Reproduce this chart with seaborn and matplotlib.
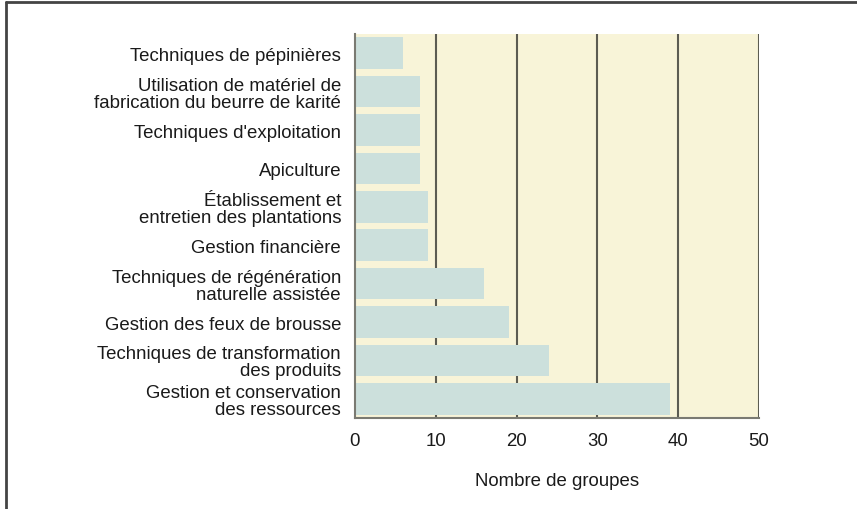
import numpy as np
import pandas as pd
import matplotlib
matplotlib.use('Agg')
import matplotlib.pyplot as plt
from matplotlib.lines import Line2D
import seaborn as sns

categories = [
    'Techniques de pépinières',
    'Utilisation de matériel de\nfabrication du beurre de karité',
    "Techniques d'exploitation",
    'Apiculture',
    'Établissement et\nentretien des plantations',
    'Gestion financière',
    'Techniques de régénération\nnaturelle assistée',
    'Gestion des feux de brousse',
    'Techniques de transformation\ndes produits',
    'Gestion et conservation\ndes ressources',
]
groupes = [6, 8, 8, 8, 9, 9, 16, 19, 24, 39]
xticks = [0, 10, 20, 30, 40, 50]

df = pd.DataFrame({'categorie': categories, 'groupes': groupes})

sns.set_style('white')
plt.rcParams['font.family'] = ['Liberation Sans', 'DejaVu Sans']

fig = plt.figure(figsize=(8.57, 5.10), dpi=100)
ax = fig.add_axes([355/857, 1 - 419/510, 404/857, 384/510])

ax.set_facecolor('#f8f4d8')
sns.barplot(data=df, x='groupes', y='categorie', color='#cce0dc',
            saturation=1, width=0.82, linewidth=0, ax=ax)

ax.set_xlim(0, 50)
ax.set_xticks(xticks)
for v in xticks[1:]:
    ax.axvline(v, color='#5c5c52', lw=1.5, zorder=0.5)

ax.set_ylabel('')
ax.set_xlabel('Nombre de groupes', fontsize=13.4, labelpad=17, color='#1a1a1a')
ax.tick_params(axis='x', length=0, labelsize=13.4, pad=10, colors='#1a1a1a')
ax.tick_params(axis='y', length=0, labelsize=13.4, pad=10, colors='#1a1a1a')
for lbl in ax.get_yticklabels():
    lbl.set_horizontalalignment('right')
    lbl.set_multialignment('right')
    lbl.set_linespacing(1.0)

for s in ['top', 'right']:
    ax.spines[s].set_visible(False)
for s in ['left', 'bottom']:
    ax.spines[s].set_color('#7a7a72')
    ax.spines[s].set_linewidth(1.5)

# cadre partiel (haut et gauche) autour de la figure
fig.add_artist(Line2D([6/857, 6/857], [0, 1 - 3/510], color='#444444', lw=2,
                      transform=fig.transFigure))
fig.add_artist(Line2D([6/857, 1], [1 - 3/510, 1 - 3/510], color='#444444', lw=2,
                      transform=fig.transFigure))

fig.savefig('out.png', dpi=100)
